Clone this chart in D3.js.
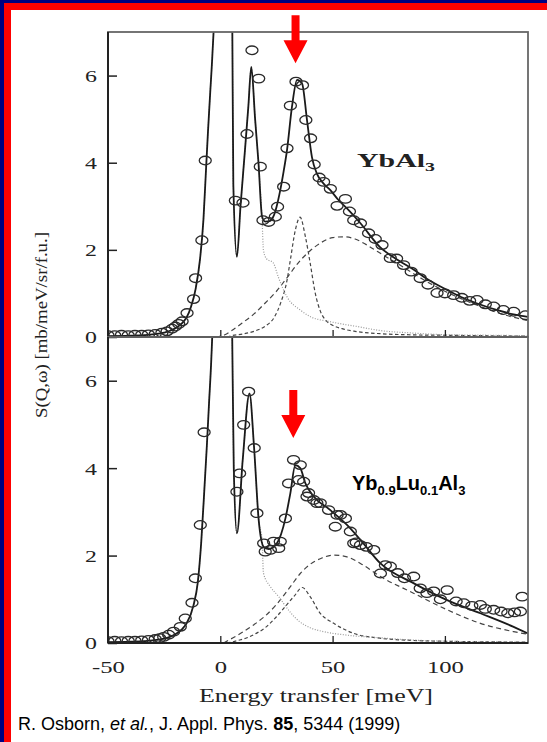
<!DOCTYPE html>
<html><head><meta charset="utf-8">
<script src="https://cdn.jsdelivr.net/npm/d3@7/dist/d3.min.js"></script>
<style>body{margin:0;background:#fff}svg{display:block}</style>
</head><body><svg id="c" width="547" height="742"></svg>
<script>
// ---------- DATA ----------
const xTickValues = [-50, 0, 50, 100];
const yTickValues = [0, 2, 4, 6];

// Top panel: YbAl3
const topPointsE = [-50,-47,-44,-41,-38,-35,-32,-29,-26,-23.7,-21.5,-20,-18.5,-17,-14.8,-11.9,-11,-8.2,-6.7,
  6.7,10.1,11.9,14.1,17.1,17.8,19,21.5,24.5,25.5,28.2,29.7,31.2,33.7,36.6,38.1,40.2,41.8,44,46,49,52,55.7,57.5,59.4,62.4,66,69,72,75.7,78.5,81.6,85,89,92.5,96.5,100,103.9,107.5,111,114.3,118,121.7,126,130.6,135.9];
const topPointsS = [0.04,0.04,0.05,0.04,0.05,0.05,0.06,0.07,0.10,0.13,0.19,0.24,0.30,0.36,0.55,0.87,1.35,2.22,4.05,
  3.13,3.08,4.66,6.58,5.93,3.91,2.68,2.64,2.76,2.99,3.45,4.33,5.31,5.86,5.78,4.98,4.56,3.96,3.66,3.56,3.40,3.01,3.17,2.88,2.68,2.61,2.38,2.25,2.11,1.81,1.80,1.65,1.50,1.35,1.20,1.01,1.00,0.96,0.90,0.83,0.85,0.75,0.70,0.62,0.58,0.50];

const topFitE = [-50,-40,-30,-25,-20,-17,-15,-13,-11,-9,-7.5,-6.5,-5.5,-4.5,-3.5,-2.5,1,4.5,5.3,5.8,7.4,9,11,12.5,13.8,15.5,17,18.6,20,22,23.6,25,26.7,28.2,29.7,31.9,34.2,36.4,38.6,40.8,43,46,49,52.5,56.4,62.4,71,78,86,93,101,108,116,123,130.6,137];
const topFitS = [0.02,0.03,0.06,0.10,0.20,0.32,0.45,0.70,1.10,1.80,2.70,3.70,4.70,5.60,6.50,7.80,30,10,7.5,3.5,1.84,3.0,4.3,5.3,6.2,5.0,4.0,2.76,2.65,2.66,2.76,2.98,3.37,3.80,4.29,5.28,5.90,5.82,4.98,4.13,3.75,3.52,3.37,3.15,2.95,2.61,2.07,1.80,1.55,1.30,1.08,0.90,0.74,0.62,0.52,0.46];

const topDotE = [-50,-40,-30,-25,-20,-17,-15,-13,-11,-9,-7.5,-6.5,-5.5,-4.5,-3.5,-2.5,1,4.5,5.3,5.8,7.4,9,11,12.5,13.8,15.5,17,18.6,19.2,20.5,23.6,25.8,29.7,35.6,40,49,61,71,86,101,120,137];
const topDotS = [0.02,0.03,0.06,0.10,0.20,0.32,0.45,0.70,1.10,1.80,2.70,3.70,4.70,5.60,6.50,7.80,30,10,7.5,3.5,1.84,3.0,4.3,5.3,6.2,5.0,4.0,2.70,2.00,1.80,1.70,1.38,0.92,0.62,0.47,0.35,0.24,0.15,0.09,0.05,0.04,0.03];

const topNarrowE = [3,5,10,15,20,24,27,29.7,31.2,33.4,35.5,37.9,40,42.3,44.5,47,50,55,60,70,85,100,137];
const topNarrowS = [0,0.03,0.07,0.13,0.25,0.45,0.80,1.30,1.77,2.45,2.75,2.30,1.70,1.00,0.60,0.38,0.27,0.18,0.13,0.08,0.05,0.04,0.02];

const topBroadE = [-2,2,6,10,15,20,25,30,35,40,45,50,55,60,65,70,80,90,100,110,120,130,137];
const topBroadS = [0,0.05,0.18,0.33,0.53,0.78,1.05,1.38,1.72,1.98,2.17,2.28,2.30,2.25,2.12,1.96,1.65,1.33,1.05,0.82,0.62,0.46,0.38];

// Bottom panel: Yb0.9Lu0.1Al3
const botPointsE = [-50,-47,-44,-41,-38,-35,-32,-29,-27,-25.2,-23,-20.8,-17.8,-15.6,-12.6,-11.1,-8.9,-7.2,
  7.4,8.6,10.4,12.6,15.1,16.3,19.3,20,22.3,23.7,26,26.7,29,30.4,32.6,34.9,35.6,37.1,38.6,39.3,41.6,43,44.5,48.2,51.2,52,53.5,55.7,57.9,59.4,60.5,62.4,65,68.3,71.3,73.5,75.7,79,82,86.1,89,92,95,98,101,105,108.4,112,115.8,118,121.7,125,128,131,133.6,134.4];
const botPointsS = [0.04,0.05,0.04,0.05,0.05,0.06,0.07,0.09,0.11,0.14,0.19,0.26,0.37,0.56,0.92,1.48,2.70,4.82,
  3.46,3.88,4.99,5.75,4.46,2.97,2.28,2.09,2.13,2.32,2.17,2.32,2.85,3.65,4.19,3.73,4.07,3.69,3.35,3.43,3.27,3.20,3.20,3.04,2.66,2.93,2.93,2.85,2.55,2.28,2.30,2.24,2.20,2.13,1.59,1.78,1.75,1.60,1.48,1.52,1.25,1.14,1.18,1.00,1.21,0.95,0.91,0.85,0.87,0.78,0.76,0.72,0.68,0.70,0.72,1.06];

const botFitE = [-50,-40,-30,-25,-20,-17,-15,-12,-10,-8.5,-7,-6,-5,-4,-3,1,4.5,5.2,6,7.4,10,13,15,17.1,19.3,21.5,25.2,29,31.2,33.4,35.6,37.9,41.6,49,56.4,62.4,71.3,86,101,115.8,130.6,137];
const botFitS = [0.02,0.03,0.06,0.10,0.20,0.32,0.45,0.85,1.40,2.30,3.60,4.50,5.50,6.50,8.00,30,10,7.5,4.0,2.51,4.2,5.71,4.5,2.81,2.20,2.15,2.28,2.85,3.43,4.07,4.00,3.65,3.35,3.04,2.70,2.36,1.82,1.37,0.98,0.68,0.37,0.22];

const botDotE = [-50,-40,-30,-25,-20,-17,-15,-12,-10,-8.5,-7,-6,-5,-4,-3,1,4.5,5.2,6,7.4,10,13,15,17.1,18.6,19.2,22.3,26,31.2,35,40,46,56.4,71,85,101,137];
const botDotS = [0.02,0.03,0.06,0.10,0.20,0.32,0.45,0.85,1.40,2.30,3.60,4.50,5.50,6.50,8.00,30,10,7.5,4.0,2.51,4.2,5.71,4.5,2.81,2.36,1.60,1.29,1.06,0.70,0.50,0.35,0.26,0.18,0.12,0.07,0.04,0.02];

const botNarrowE = [3,8,11.9,16,20,25,30,33,36.5,40,44.5,50.5,59.4,71,85,100,137];
const botNarrowS = [0,0.06,0.12,0.22,0.35,0.60,0.90,1.08,1.27,1.06,0.68,0.45,0.22,0.11,0.06,0.04,0.02];

const botBroadE = [1.5,5,10,15,20,25,31.2,35.6,40,45,50.5,56.4,62.4,71.3,86,101,115.8,130.6,137];
const botBroadS = [0,0.10,0.25,0.42,0.62,0.88,1.29,1.59,1.80,1.94,2.01,1.97,1.82,1.52,1.14,0.76,0.45,0.26,0.20];

const arrowE = [33.5, 32.5];      // energy the arrows point at
const arrowTipS = [6.28, 4.69];   // S value at arrow tip

// ---------- DRAW ----------
const svg = d3.select("#c");
const W = 547, H = 742;
svg.append("rect").attr("width", W).attr("height", H).attr("fill", "#000080");
svg.append("rect").attr("x", 4).attr("y", 3).attr("width", W).attr("height", H).attr("fill", "#ff0000");
svg.append("rect").attr("x", 11).attr("y", 10).attr("width", W).attr("height", H).attr("fill", "#ffffff");

const x = d3.scaleLinear().domain([-50, 137]).range([108, 528]);
const yTop = d3.scaleLinear().domain([0, 7]).range([337, 32]);
const yBot = d3.scaleLinear().domain([0, 7]).range([643, 337]);

const SERIF = "'Liberation Serif','Times New Roman',serif";
const SANS = "'Liberation Sans',Arial,sans-serif";

function stretch(sel, k) {
  sel.each(function () {
    const w = this.getComputedTextLength();
    this.setAttribute("textLength", w * k);
    this.setAttribute("lengthAdjust", "spacingAndGlyphs");
  });
}
const zip = (E, S) => E.map((e, i) => [e, S[i]]);

function panel(id, y, pts, fit, dot, narrow, broad, showXLabels) {
  const g = svg.append("g");
  const [y0, y1] = y.range();
  svg.append("clipPath").attr("id", id).append("rect")
    .attr("x", x.range()[0]).attr("y", y1).attr("width", x.range()[1] - x.range()[0]).attr("height", y0 - y1);
  const plot = g.append("g").attr("clip-path", `url(#${id})`);
  const line = d3.line().x(d => x(d[0])).y(d => y(d[1])).curve(d3.curveMonotoneX);

  plot.append("path").datum(broad).attr("d", line).attr("fill", "none")
    .attr("stroke", "#444").attr("stroke-width", 1.2).attr("stroke-dasharray", "5,3.5");
  plot.append("path").datum(narrow).attr("d", line).attr("fill", "none")
    .attr("stroke", "#444").attr("stroke-width", 1.2).attr("stroke-dasharray", "3.5,2.5");
  plot.append("path").datum(dot).attr("d", line).attr("fill", "none")
    .attr("stroke", "#9a9a9a").attr("stroke-width", 1.2).attr("stroke-dasharray", "1,1.6");
  plot.append("path").datum(fit).attr("d", line).attr("fill", "none")
    .attr("stroke", "#1a1a1a").attr("stroke-width", 1.8);
  plot.selectAll("ellipse").data(pts).join("ellipse")
    .attr("cx", d => x(d[0])).attr("cy", d => y(d[1]))
    .attr("rx", 6).attr("ry", 4.3)
    .attr("fill", "none").attr("stroke", "#2a2a2a").attr("stroke-width", 1.3);

  // frame
  g.append("rect").attr("x", x.range()[0]).attr("y", y1).attr("width", x.range()[1] - x.range()[0]).attr("height", y0 - y1)
    .attr("fill", "none").attr("stroke", "#666").attr("stroke-width", 1.8);
  g.append("line").attr("x1", x.range()[0]).attr("x2", x.range()[0]).attr("y1", y1).attr("y2", y0)
    .attr("stroke", "#222").attr("stroke-width", 2);
  g.append("line").attr("x1", x.range()[0]).attr("x2", x.range()[1]).attr("y1", y0).attr("y2", y0)
    .attr("stroke", "#222").attr("stroke-width", 1.8);

  // y axis
  const ya = g.append("g").attr("transform", `translate(${x.range()[0]},0)`)
    .call(d3.axisLeft(y).tickValues(yTickValues).tickSize(-9).tickPadding(11).tickFormat(d => String(d)));
  ya.select(".domain").remove();
  ya.selectAll(".tick line").attr("stroke", "#222").attr("stroke-width", 1.5);
  ya.selectAll(".tick text").attr("font-family", SERIF).attr("font-size", 17).attr("fill", "#222").attr("dy", "0.35em");
  stretch(ya.selectAll(".tick text"), 1.4);

  // x axis
  const xa = g.append("g").attr("transform", `translate(0,${y0})`)
    .call(d3.axisBottom(x).tickValues(xTickValues).tickSize(-7).tickPadding(18)
      .tickFormat(showXLabels ? (d => String(d)) : ""));
  xa.select(".domain").remove();
  xa.selectAll(".tick line").attr("stroke", "#222").attr("stroke-width", 1.3);
  xa.selectAll(".tick text").attr("font-family", SERIF).attr("font-size", 17).attr("fill", "#222");
  if (showXLabels) stretch(xa.selectAll(".tick text"), 1.45);
  return g;
}

panel("clipTop", yTop, zip(topPointsE, topPointsS), zip(topFitE, topFitS), zip(topDotE, topDotS),
  zip(topNarrowE, topNarrowS), zip(topBroadE, topBroadS), false);
panel("clipBot", yBot, zip(botPointsE, botPointsS), zip(botFitE, botFitS), zip(botDotE, botDotS),
  zip(botNarrowE, botNarrowS), zip(botBroadE, botBroadS), true);

// arrows
[yTop, yBot].forEach((y, i) => {
  const cx = x(arrowE[i]), tip = y(arrowTipS[i]);
  const p = d3.path();
  p.moveTo(cx - 4, tip - 48); p.lineTo(cx + 4, tip - 48); p.lineTo(cx + 4, tip - 23);
  p.lineTo(cx + 12, tip - 23); p.lineTo(cx, tip); p.lineTo(cx - 12, tip - 23);
  p.lineTo(cx - 4, tip - 23); p.closePath();
  svg.append("path").attr("d", p.toString()).attr("fill", "#ff0000");
});

// labels
const lab1 = svg.append("text").attr("x", 357).attr("y", 167).attr("font-family", SERIF)
  .attr("font-weight", "bold").attr("font-size", 18).attr("fill", "#222");
lab1.append("tspan").text("YbAl");
lab1.append("tspan").attr("font-size", 12).attr("dy", 4).text("3");
lab1.attr("textLength", 78).attr("lengthAdjust", "spacingAndGlyphs");

const lab2 = svg.append("text").attr("x", 352).attr("y", 490).attr("font-family", SANS)
  .attr("font-weight", "bold").attr("font-size", 20).attr("fill", "#000");
[["Yb", 0], ["0.9", 5], ["Lu", -5], ["0.1", 5], ["Al", -5], ["3", 5]].forEach(([t, dy], i) => {
  lab2.append("tspan").attr("dy", dy).attr("font-size", i % 2 ? 13 : 20).text(t);
});

const xl = svg.append("text").attr("x", 316).attr("y", 702).attr("text-anchor", "middle")
  .attr("font-family", SERIF).attr("font-size", 18).attr("fill", "#222").text("Energy transfer [meV]");
xl.attr("textLength", 234).attr("lengthAdjust", "spacingAndGlyphs");

const yl = svg.append("text").attr("transform", "translate(47,325) rotate(-90)").attr("text-anchor", "middle")
  .attr("font-family", SERIF).attr("font-size", 17).attr("fill", "#222").text("S(Q,ω) [mb/meV/sr/f.u.]");
yl.attr("textLength", 186).attr("lengthAdjust", "spacingAndGlyphs");

const cit = svg.append("text").attr("x", 18).attr("y", 730).attr("font-family", SANS)
  .attr("font-size", 18).attr("fill", "#000");
cit.append("tspan").text("R. Osborn, ");
cit.append("tspan").attr("font-style", "italic").text("et al.");
cit.append("tspan").text(", J. Appl. Phys. ");
cit.append("tspan").attr("font-weight", "bold").text("85");
cit.append("tspan").text(", 5344 (1999)");
</script></body></html>
